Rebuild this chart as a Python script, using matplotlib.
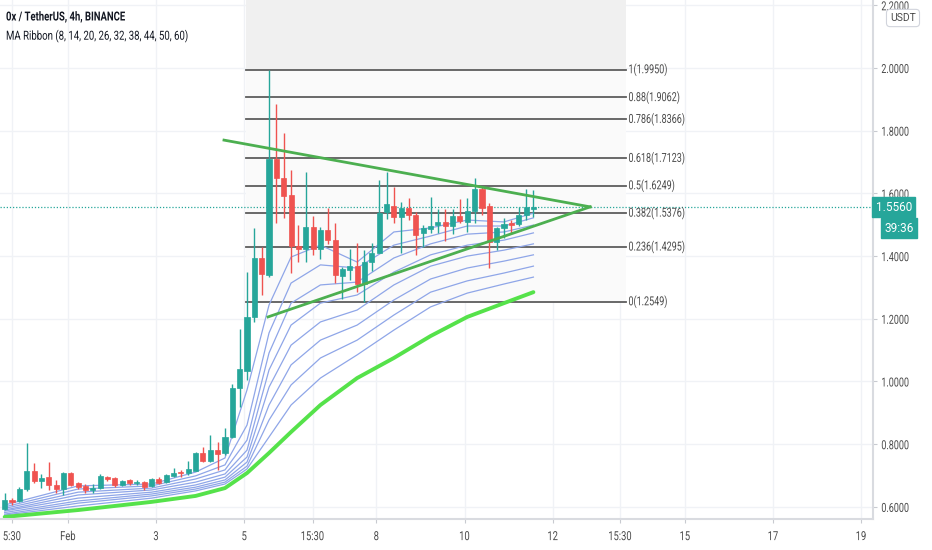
import matplotlib
matplotlib.use('Agg')
import matplotlib.pyplot as plt
import matplotlib.transforms as mtransforms
from matplotlib.patheffects import AbstractPathEffect

plt.rcParams['font.family'] = ['Roboto', 'DejaVu Sans']


class Squeeze(AbstractPathEffect):
    # the screenshot font is very narrow, squeeze glyph paths horizontally
    def __init__(self, sx, anchor='left'):
        super().__init__()
        self.sx = sx
        self.anchor = anchor

    def draw_path(self, renderer, gc, tpath, affine, rgbFace=None):
        xs = tpath.vertices[:, 0]
        cx = 0
        if self.anchor == 'center' and len(xs):
            cx = (xs.min() + xs.max()) / 2
        sq = mtransforms.Affine2D().translate(-cx, 0).scale(self.sx, 1).translate(cx, 0)
        renderer.draw_path(gc, tpath, sq + affine, rgbFace)


# x is in days counted from Feb 1 00:00, one candle every 4 hours
first_candle = -1.4375
candle_step = 1 / 6

opens = [0.593, 0.622, 0.619, 0.657, 0.715, 0.683, 0.695, 0.670, 0.657, 0.708,
         0.676, 0.667, 0.654, 0.660, 0.695, 0.692, 0.670, 0.686, 0.676, 0.679,
         0.667, 0.689, 0.679, 0.699, 0.711, 0.708, 0.715, 0.772, 0.746, 0.782,
         0.772, 0.823, 0.979, 1.033, 1.206, 1.394, 1.340, 1.710, 1.649, 1.595,
         1.432, 1.423, 1.493, 1.423, 1.483, 1.451, 1.337, 1.356, 1.368, 1.311,
         1.381, 1.410, 1.541, 1.560, 1.525, 1.554, 1.531, 1.474, 1.487, 1.499,
         1.509, 1.496, 1.528, 1.509, 1.544, 1.614, 1.560, 1.445, 1.490, 1.506,
         1.502, 1.531, 1.550]
highs = [0.644, 0.628, 0.664, 0.804, 0.740, 0.705, 0.743, 0.686, 0.711, 0.711,
         0.679, 0.673, 0.673, 0.705, 0.699, 0.695, 0.686, 0.689, 0.686, 0.683,
         0.692, 0.695, 0.705, 0.724, 0.718, 0.746, 0.775, 0.791, 0.829, 0.807,
         0.852, 0.992, 1.167, 1.349, 1.490, 1.429, 1.995, 1.885, 1.793, 1.675,
         1.499, 1.668, 1.528, 1.493, 1.554, 1.506, 1.365, 1.423, 1.442, 1.420,
         1.442, 1.643, 1.668, 1.620, 1.573, 1.585, 1.541, 1.499, 1.589, 1.550,
         1.550, 1.550, 1.582, 1.585, 1.649, 1.624, 1.569, 1.493, 1.522, 1.515,
         1.557, 1.614, 1.611]
lows = [0.590, 0.606, 0.616, 0.651, 0.676, 0.660, 0.654, 0.644, 0.638, 0.667,
        0.657, 0.644, 0.644, 0.657, 0.683, 0.664, 0.667, 0.670, 0.670, 0.654,
        0.664, 0.673, 0.676, 0.695, 0.695, 0.702, 0.715, 0.743, 0.743, 0.718,
        0.766, 0.820, 0.919, 1.005, 1.190, 1.276, 1.333, 1.506, 1.522, 1.346,
        1.381, 1.381, 1.404, 1.391, 1.439, 1.314, 1.263, 1.324, 1.286, 1.255,
        1.353, 1.410, 1.518, 1.506, 1.410, 1.515, 1.404, 1.429, 1.474, 1.474,
        1.448, 1.471, 1.506, 1.477, 1.506, 1.531, 1.362, 1.420, 1.458, 1.474,
        1.496, 1.515, 1.525]
closes = [0.622, 0.616, 0.657, 0.715, 0.683, 0.692, 0.670, 0.657, 0.708, 0.670,
          0.664, 0.654, 0.660, 0.699, 0.689, 0.670, 0.683, 0.676, 0.679, 0.664,
          0.689, 0.676, 0.702, 0.708, 0.708, 0.721, 0.772, 0.746, 0.782, 0.769,
          0.823, 0.979, 1.040, 1.206, 1.394, 1.343, 1.710, 1.649, 1.592, 1.432,
          1.423, 1.493, 1.423, 1.483, 1.451, 1.340, 1.359, 1.368, 1.311, 1.381,
          1.410, 1.538, 1.566, 1.525, 1.554, 1.531, 1.467, 1.490, 1.496, 1.509,
          1.496, 1.528, 1.512, 1.544, 1.614, 1.554, 1.445, 1.490, 1.502, 1.499,
          1.531, 1.557, 1.556]
last_price = 1.5560

# MA ribbon read at a few candle indices
ribbon_idx = [0, 10, 20, 26, 30, 33, 36, 39, 43, 48, 53, 58, 63, 68, 72]
ma8 = [0.606, 0.667, 0.673, 0.711, 0.756, 0.973, 1.244, 1.397, 1.435, 1.381, 1.477, 1.490, 1.515, 1.509, 1.537]
ma14 = [0.600, 0.657, 0.667, 0.699, 0.734, 0.861, 1.155, 1.314, 1.372, 1.362, 1.435, 1.464, 1.496, 1.496, 1.522]
ma20 = [0.595, 0.647, 0.660, 0.689, 0.718, 0.813, 1.091, 1.250, 1.308, 1.317, 1.394, 1.439, 1.470, 1.477, 1.499]
ma26 = [0.590, 0.638, 0.654, 0.679, 0.705, 0.781, 1.037, 1.180, 1.250, 1.276, 1.349, 1.404, 1.435, 1.451, 1.474]
ma32 = [0.587, 0.628, 0.647, 0.670, 0.695, 0.759, 0.982, 1.116, 1.190, 1.228, 1.308, 1.368, 1.400, 1.419, 1.439]
ma38 = [0.582, 0.619, 0.641, 0.663, 0.686, 0.743, 0.925, 1.053, 1.132, 1.180, 1.260, 1.327, 1.362, 1.384, 1.404]
ma44 = [0.577, 0.612, 0.635, 0.657, 0.679, 0.730, 0.877, 0.989, 1.075, 1.132, 1.212, 1.285, 1.321, 1.346, 1.368]
ma50 = [0.574, 0.603, 0.628, 0.651, 0.673, 0.721, 0.823, 0.925, 1.011, 1.085, 1.164, 1.238, 1.282, 1.311, 1.333]
ma60 = [0.568, 0.590, 0.616, 0.635, 0.660, 0.708, 0.772, 0.839, 0.925, 1.011, 1.075, 1.145, 1.206, 1.250, 1.285]
ribbon_blue = [ma8, ma14, ma20, ma26, ma32, ma38, ma44, ma50]

# fibonacci retracement
fib_ratios = ['0', '0.236', '0.382', '0.5', '0.618', '0.786', '0.88', '1']
fib_prices = [1.2549, 1.4295, 1.5376, 1.6249, 1.7123, 1.8366, 1.9062, 1.9950]
fib_days = [4.04, 12.66]

# triangle trend lines (day, price)
upper_line = ([3.54, 11.85], [1.770, 1.557])
lower_line = ([4.54, 11.85], [1.206, 1.557])

tick_days = [-1.27, 0, 2, 4, 5.55, 7, 9, 11, 12.53, 14, 16, 18]
tick_labels = ['5:30', 'Feb', '3', '5', '15:30', '8', '10', '12', '15:30', '15', '17', '19']
price_ticks = [0.6, 0.8, 1.0, 1.2, 1.4, 1.6, 1.8, 2.0, 2.2]

UP = '#26a69a'
DOWN = '#ef5350'
GRID = '#f0f2f6'
TXT = '#4a4a4a'

fig = plt.figure(figsize=(9.32, 5.5), dpi=100)
ax = fig.add_axes([0, 31 / 550, 873 / 932, 519 / 550])
ax.set_xlim(-1.5434, 18.27)
ax.set_ylim(0.5614, 2.2169)

# grid
for d in tick_days:
    ax.axvline(d, color=GRID, lw=1, zorder=0)
for p in price_ticks:
    ax.axhline(p, color=GRID, lw=1, zorder=0)

# fib background + levels
ax.fill_between(fib_days, fib_prices[-1], 2.2169, color='#f0f0f0', zorder=0.5, lw=0)
ax.fill_between(fib_days, fib_prices[0], fib_prices[-1], color='#fafafa', zorder=0.4, lw=0)
for r, p in zip(fib_ratios, fib_prices):
    ax.plot(fib_days, [p, p], color='#5d5d5d', lw=1.3, zorder=1)
    ax.text(fib_days[1] + 0.06, p, f'{r}({p:.4f})', fontsize=9, color=TXT,
            va='center', ha='left', zorder=5, path_effects=[Squeeze(0.72)])

# ribbon
rib_x = [first_candle + i * candle_step for i in ribbon_idx]
for line in ribbon_blue:
    ax.plot(rib_x, line, color='#8fa6e8', lw=0.9, zorder=2)
ax.plot(rib_x, ma60, color='#55e24a', lw=2.8, zorder=2.5, solid_capstyle='round',
        solid_joinstyle='round')

# candles
for i in range(len(opens)):
    t = first_candle + i * candle_step
    o, h, l, c = opens[i], highs[i], lows[i], closes[i]
    col = UP if c >= o else DOWN
    ax.vlines(t, l, h, color=col, lw=1, zorder=3)
    body = max(abs(c - o), 0.004)
    ax.bar(t, body, bottom=min(o, c), width=0.115, color=col, edgecolor=col,
           lw=0.5, zorder=4)

# triangle
ax.plot(*upper_line, color='#4caf50', lw=2, zorder=5)
ax.plot(*lower_line, color='#4caf50', lw=2, zorder=5)

# last price line
ax.axhline(last_price, color=UP, lw=0.9, ls=(0, (1, 1.5)), zorder=2)

# axes look
for s in ['top', 'left']:
    ax.spines[s].set_visible(False)
ax.spines['bottom'].set_color('#d9dbe0')
ax.spines['bottom'].set_linewidth(1.5)
ax.spines['right'].set_color('#d9dbe0')
ax.spines['right'].set_linewidth(1.5)
ax.yaxis.tick_right()
ax.set_yticks(price_ticks)
ax.set_yticklabels([f'{p:.4f}' for p in price_ticks])
ax.set_xticks(tick_days)
ax.set_xticklabels(tick_labels)
ax.tick_params(axis='y', length=3, pad=3, colors='#c8cad0', labelcolor=TXT, labelsize=9)
ax.tick_params(axis='x', length=3, pad=5, colors='#c8cad0', labelcolor=TXT, labelsize=9)
for lbl in ax.get_yticklabels():
    lbl.set_path_effects([Squeeze(0.72)])
for lbl in ax.get_xticklabels():
    lbl.set_path_effects([Squeeze(0.75, 'center')])

# price labels on the axis
trans = mtransforms.blended_transform_factory(ax.transAxes, ax.transData)
ax.text(1.003, last_price, '1.5560', transform=trans, fontsize=8.5, color='white',
        va='center', ha='left', zorder=10, clip_on=False,
        bbox=dict(boxstyle='square,pad=0.3', fc=UP, ec=UP))
ax.annotate('39:36', xy=(1.0, last_price), xycoords=trans, xytext=(8, -15),
            textcoords='offset points', fontsize=8.5, color='white', va='center',
            ha='left', annotation_clip=False,
            bbox=dict(boxstyle='square,pad=0.3', fc=UP, ec=UP))

# header text
fig.text(6 / 932, 1 - 17 / 550, '0x / TetherUS, 4h, BINANCE', fontsize=9, fontweight='bold',
         color='#131722', va='center', ha='left', path_effects=[Squeeze(0.76)])
fig.text(6 / 932, 1 - 36 / 550, 'MA Ribbon (8, 14, 20, 26, 32, 38, 44, 50, 60)', fontsize=9,
         color='#131722', va='center', ha='left', path_effects=[Squeeze(0.77)])
fig.text(903 / 932, 1 - 18 / 550, 'USDT', fontsize=7.5, color=TXT, va='center', ha='center',
         bbox=dict(boxstyle='round,pad=0.35', fc='white', ec='#d1d4dc', lw=0.8))

fig.savefig('out.png', dpi=100)
